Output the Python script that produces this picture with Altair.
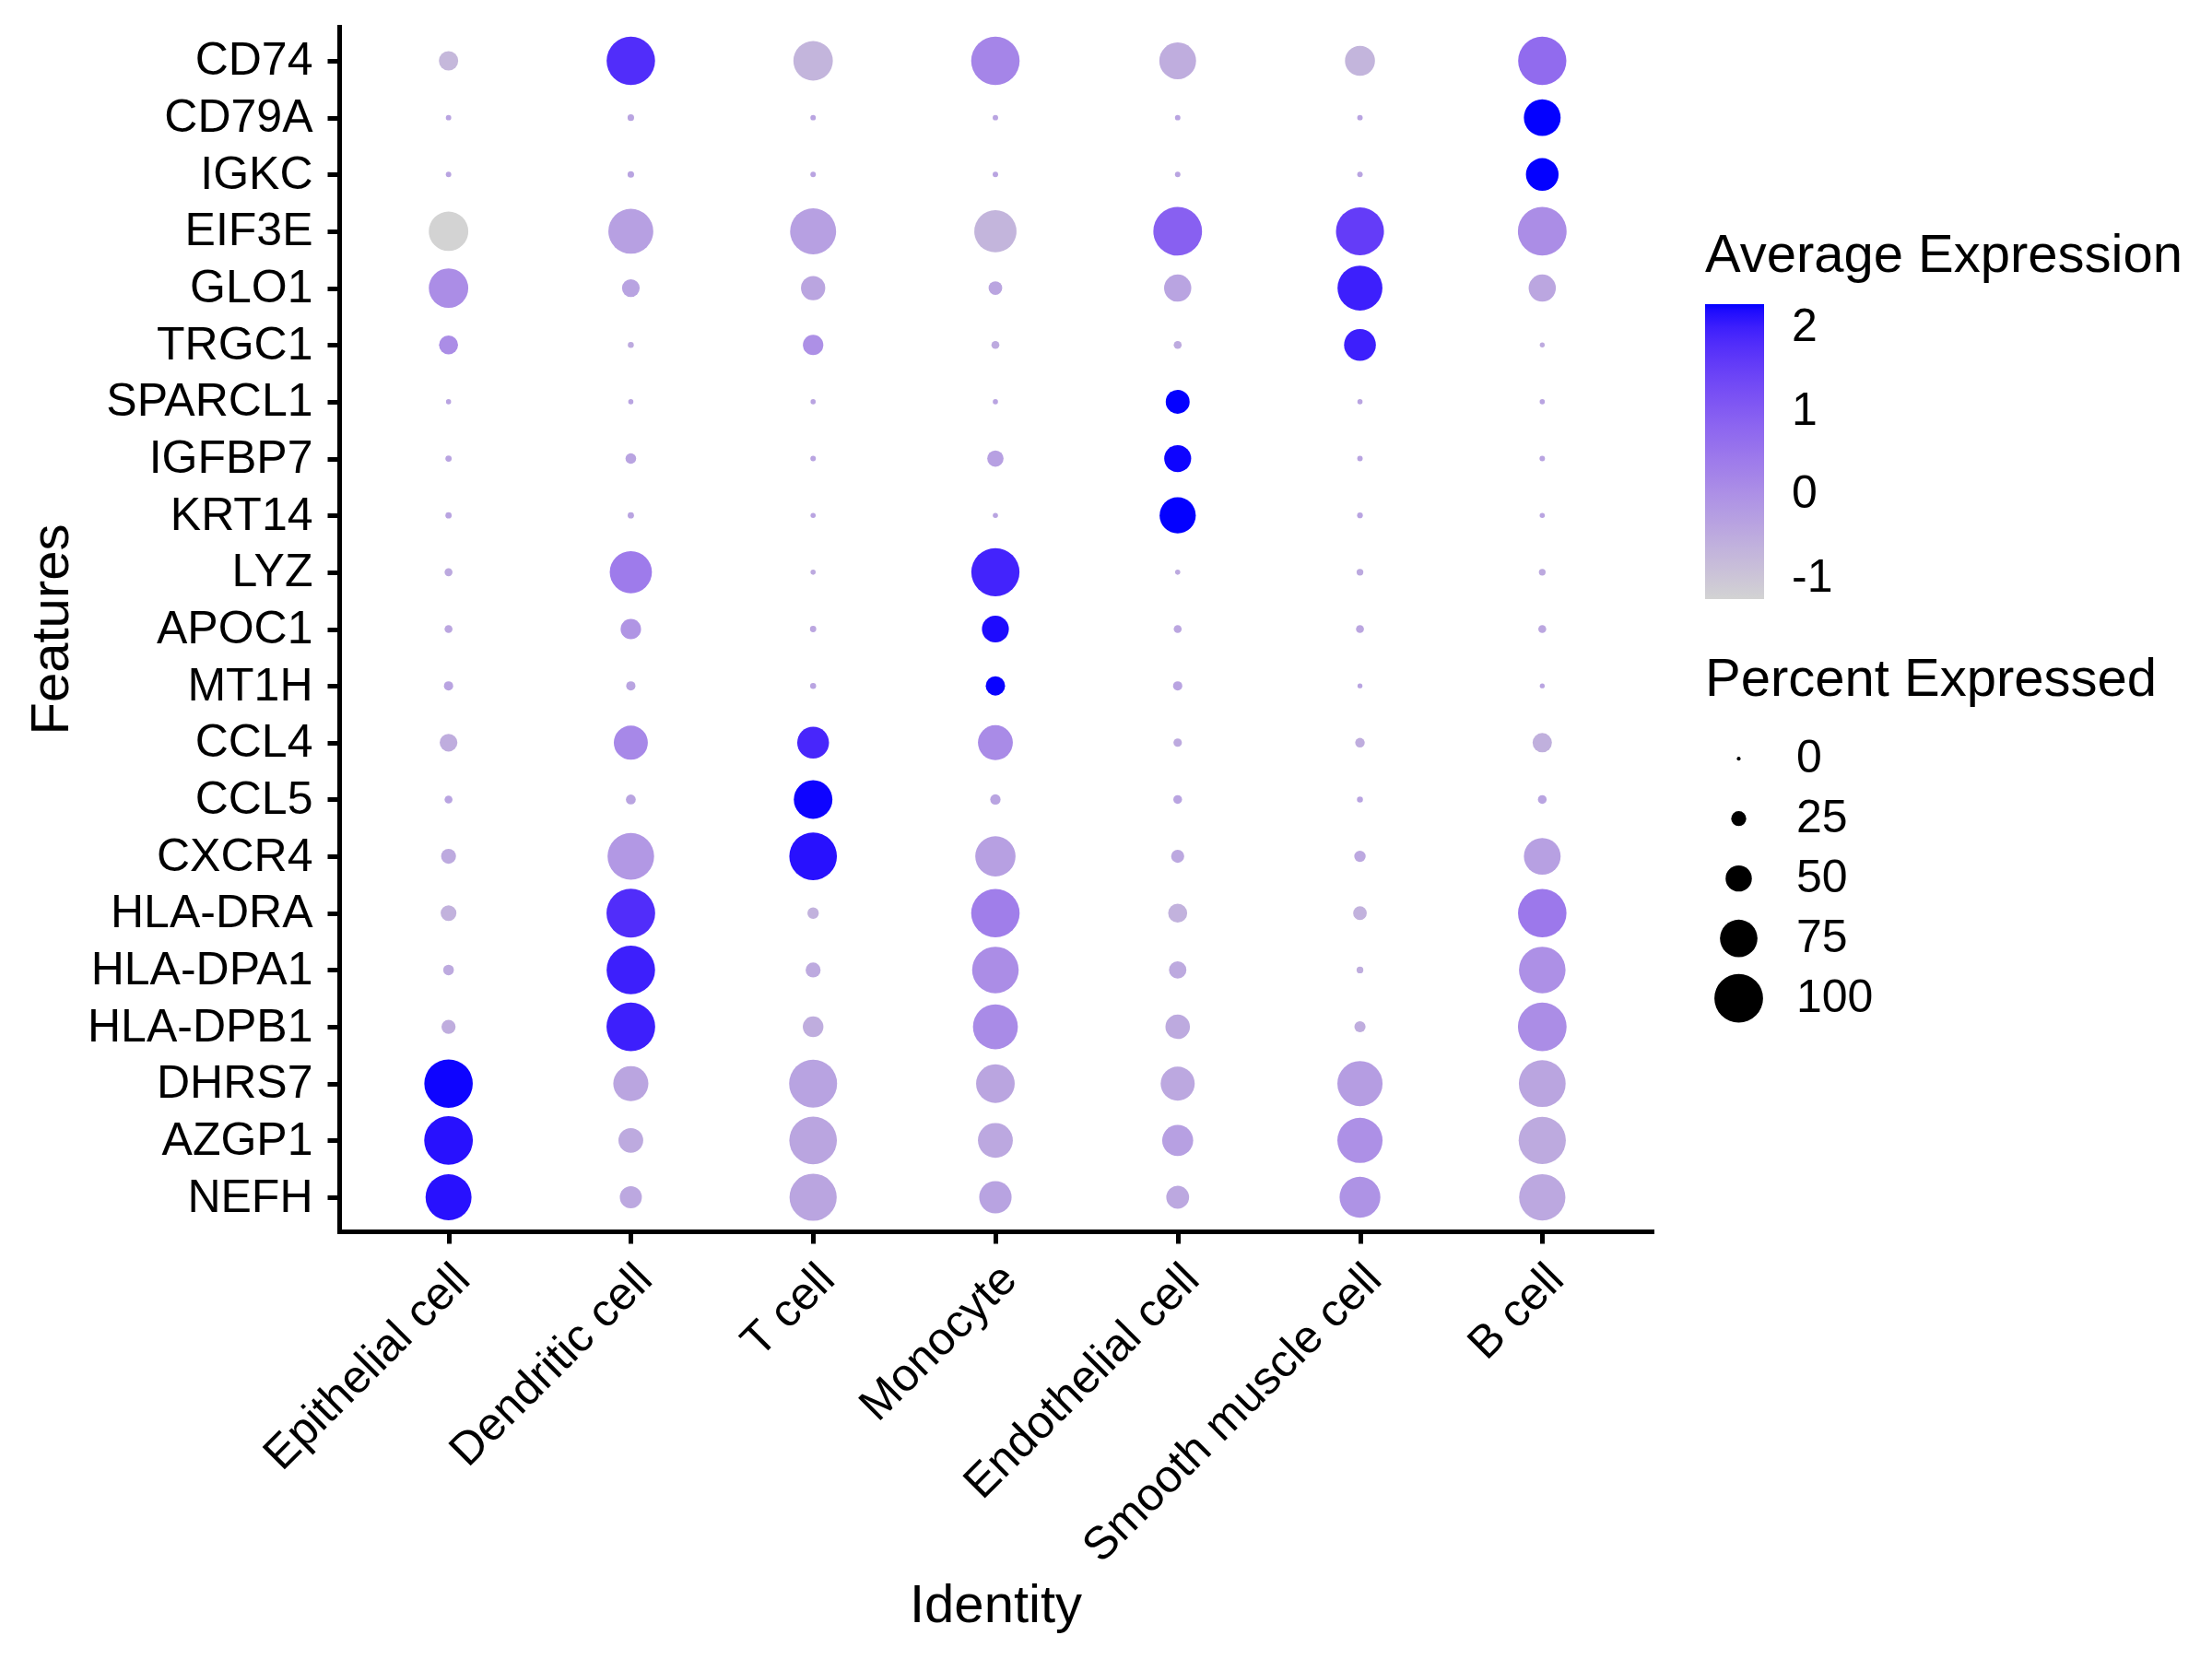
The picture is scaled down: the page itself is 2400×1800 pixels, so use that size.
import math
import altair as alt
import pandas as pd

genes = ["CD74", "CD79A", "IGKC", "EIF3E", "GLO1", "TRGC1", "SPARCL1", "IGFBP7",
         "KRT14", "LYZ", "APOC1", "MT1H", "CCL4", "CCL5", "CXCR4", "HLA-DRA",
         "HLA-DPA1", "HLA-DPB1", "DHRS7", "AZGP1", "NEFH"]
cell_types = ["Epithelial cell", "Dendritic cell", "T cell", "Monocyte",
              "Endothelial cell", "Smooth muscle cell", "B cell"]

# Percent expressed (per cell type, gene order as above)
pct_epithelial = [34.7, 3.8, 3.8, 79.5, 79.5, 34.0, 3.1, 5.6, 5.6, 9.3, 9.3, 12.2, 31.1, 9.3, 24.9, 26.7, 15.3, 23.1, 99.5, 100.0, 94.0]
pct_dendritic = [99.5, 6.2, 6.2, 91.6, 31.1, 4.9, 3.1, 15.3, 5.6, 85.6, 37.1, 12.2, 67.5, 13.5, 95.3, 100.0, 99.5, 100.0, 69.8, 46.7, 40.7]
pct_tcell = [79.5, 3.8, 3.8, 94.0, 45.6, 37.1, 3.1, 3.8, 3.1, 3.1, 5.6, 4.9, 62.5, 77.6, 97.6, 17.1, 24.9, 37.6, 98.4, 97.6, 96.7]
pct_monocyte = [99.5, 3.8, 3.8, 85.6, 22.0, 9.3, 3.1, 28.0, 3.1, 98.9, 51.6, 34.7, 69.3, 14.7, 81.3, 99.5, 95.3, 91.6, 77.6, 69.3, 63.8]
pct_endothelial = [73.5, 3.8, 3.8, 100.0, 52.2, 9.3, 44.9, 51.6, 72.2, 3.1, 9.3, 12.2, 10.4, 11.1, 20.7, 34.0, 30.4, 46.2, 67.5, 60.7, 42.5]
pct_smooth = [58.4, 3.8, 3.8, 98.4, 91.6, 62.5, 3.1, 3.8, 4.4, 6.7, 9.3, 2.5, 12.9, 4.9, 17.1, 22.0, 6.7, 16.5, 92.2, 92.2, 82.5]
pct_bcell = [99.0, 73.5, 64.4, 100.0, 52.2, 2.5, 3.1, 3.8, 3.1, 6.7, 9.3, 2.5, 34.7, 11.1, 73.5, 99.5, 95.3, 100.0, 95.8, 96.7, 94.7]

# Average expression (scaled)
avg_epithelial = [-0.75, -0.378, -0.378, -1.258, 0.05, 0.05, -0.378, -0.38, -0.378, -0.47, -0.42, -0.377, -0.55, -0.375, -0.5, -0.65, -0.5, -0.55, 2.25, 2.15, 2.15]
avg_dendritic = [1.8, -0.378, -0.378, -0.3, -0.35, -0.5, -0.378, -0.38, -0.378, 0.4, -0.1, -0.377, 0.15, -0.375, -0.15, 1.8, 2.0, 2.0, -0.4, -0.5, -0.45]
avg_tcell = [-0.7, -0.378, -0.378, -0.3, -0.4, 0.0, -0.378, -0.38, -0.378, -0.47, -0.42, -0.377, 1.9, 2.25, 2.15, -0.65, -0.5, -0.55, -0.35, -0.4, -0.4]
avg_monocyte = [0.2, -0.378, -0.378, -0.7, -0.4, -0.5, -0.378, -0.3, -0.378, 1.95, 2.2, 2.26, 0.1, -0.375, -0.3, 0.35, 0.05, 0.1, -0.4, -0.45, -0.35]
avg_endothelial = [-0.55, -0.378, -0.378, 0.9, -0.38, -0.5, 2.268, 2.25, 2.268, -0.47, -0.42, -0.377, -0.5, -0.375, -0.45, -0.65, -0.5, -0.5, -0.45, -0.3, -0.45]
avg_smooth = [-0.7, -0.378, -0.378, 1.55, 2.0, 2.0, -0.378, -0.38, -0.378, -0.47, -0.42, -0.377, -0.55, -0.375, -0.45, -0.65, -0.55, -0.55, -0.25, 0.0, -0.05]
avg_bcell = [0.7, 2.268, 2.268, 0.05, -0.42, -0.5, -0.378, -0.38, -0.378, -0.47, -0.42, -0.377, -0.6, -0.375, -0.3, 0.45, 0.0, 0.05, -0.4, -0.5, -0.45]

pct_lists = [pct_epithelial, pct_dendritic, pct_tcell, pct_monocyte, pct_endothelial, pct_smooth, pct_bcell]
avg_lists = [avg_epithelial, avg_dendritic, avg_tcell, avg_monocyte, avg_endothelial, avg_smooth, avg_bcell]

rows = []
for ct, pcts, avgs in zip(cell_types, pct_lists, avg_lists):
    for g, p, a in zip(genes, pcts, avgs):
        rows.append({"cell": ct, "gene": g, "pct": p, "avg": a})
df = pd.DataFrame(rows)

FONT = "Liberation Sans"
SHIFT = 8.36            # radius grows linearly from a small non-zero dot
SLOPE = 0.275           # px of radius per percent
max_area = math.pi * (SLOPE * (100 + SHIFT)) ** 2
legend_pcts = [0, 25, 50, 75, 100]
color_ticks = [-1, 0, 1, 2]

W, H = 1424, 1307
PAD_L, PAD_T = 360, 21
TOTAL_W, TOTAL_H = 2384, 1784

axis_common = dict(
    grid=False, domainColor="black", domainWidth=5, domainCap="square",
    tickColor="black", tickWidth=5, tickSize=13,
    labelColor="black", labelFont=FONT, labelFontSize=50, labelLimit=1000,
    labelOverlap=False,
    titleColor="black", titleFont=FONT, titleFontSize=58, titleFontWeight="normal",
)
legend_common = dict(
    titleFont=FONT, titleFontSize=58, titleFontWeight="normal", titleColor="black",
    titleLimit=1000, labelFont=FONT, labelFontSize=50, labelColor="black",
    labelLimit=1000, padding=0, orient="none",
)

chart = alt.Chart(df).transform_calculate(
    pct_s=f"datum.pct + {SHIFT}"
).mark_circle(opacity=1, strokeWidth=0).encode(
    x=alt.X("cell:N", sort=cell_types, title="Identity",
            scale=alt.Scale(type="point", padding=0.6),
            axis=alt.Axis(labelAngle=315, labelAlign="right", labelBaseline="top",
                          labelOffset=-3, labelPadding=13,
                          titleX=W / 2, titleY=423, titleBaseline="alphabetic",
                          titleAlign="center", **axis_common)),
    y=alt.Y("gene:N", sort=genes, title="Features",
            scale=alt.Scale(type="point", padding=0.6),
            axis=alt.Axis(labelPadding=16,
                          titleAngle=270, titleX=-295, titleY=H / 2,
                          titleBaseline="alphabetic", titleAlign="center",
                          **axis_common)),
    color=alt.Color("avg:Q", title="Average Expression",
                    scale=alt.Scale(domain=[-1.258, 2.276],
                                    range=["#D3D3D3", "#0000FF"],
                                    interpolate="lab"),
                    legend=alt.Legend(legendX=1482, legendY=220,
                                      direction="vertical", gradientLength=320,
                                      gradientThickness=64, gradientStrokeWidth=0,
                                      values=color_ticks, labelOffset=30,
                                      labelExpr="toString(datum.value)",
                                      titlePadding=23, **legend_common)),
    size=alt.Size("pct_s:Q", title="Percent Expressed",
                  scale=alt.Scale(type="pow", exponent=2,
                                  domain=[0, 100 + SHIFT], range=[0, max_area]),
                  legend=alt.Legend(legendX=1482, legendY=680,
                                    values=[v + SHIFT for v in legend_pcts],
                                    labelExpr=f"format(datum.value - {SHIFT}, '.0f')",
                                    symbolFillColor="black", symbolStrokeWidth=0,
                                    symbolOpacity=1, symbolType="circle",
                                    symbolOffset=10,
                                    clipHeight=64.3, rowPadding=0,
                                    labelOffset=36, titlePadding=24,
                                    **legend_common)),
).properties(
    width=W, height=H,
    autosize=alt.AutoSizeParams(type="none"),
    padding={"left": PAD_L, "top": PAD_T,
             "right": TOTAL_W - PAD_L - W, "bottom": TOTAL_H - PAD_T - H},
    background="white",
).configure_view(
    stroke=None
)

chart.save("out.html", embed_options={"renderer": "svg", "actions": False})
